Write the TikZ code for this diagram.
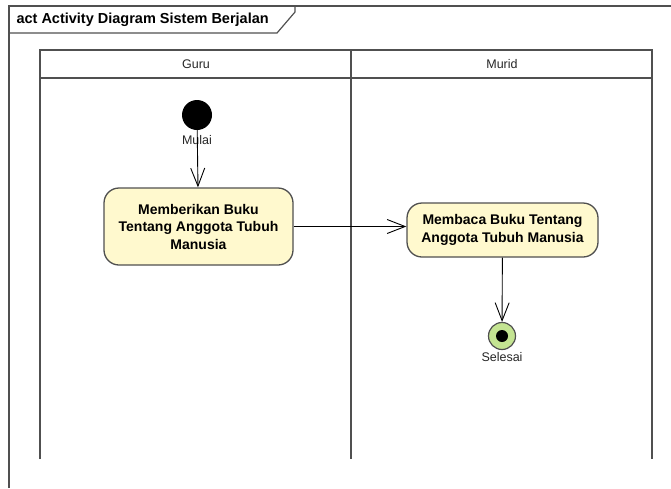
\documentclass[tikz,border=0pt]{standalone}
\usepackage{fontspec}
\setmainfont{Liberation Sans}
\usetikzlibrary{arrows.meta,positioning,shapes}
\definecolor{actfill}{RGB}{255,249,206}
\definecolor{endfill}{RGB}{196,228,146}
\definecolor{linegray}{RGB}{80,80,80}
\tikzset{
  action/.style={draw=linegray, line width=1.3pt, rounded corners=15pt, fill=actfill, align=center, inner sep=0pt, font=\fontsize{14}{17.5}\selectfont\bfseries},
  flow/.style={draw, line width=0.9pt, -{Straight Barb[length=18pt,width=14pt,line width=0.9pt]}},
  lane/.style={draw=linegray, line width=1.2pt},
  lbl/.style={font=\fontsize{12.5}{14}\selectfont, text=black!85},
}

\begin{document}
\begin{tikzpicture}[x=1pt, y=-1pt]
        \useasboundingbox (0,0) rectangle (671,488);
        %frame
        \draw[lane] (9,488) -- (9,6) -- (671,6);
        \draw[lane] (9,33) -- (277,33) -- (295,12) -- (295,6);
        \node[anchor=west, font=\fontsize{14.5}{16}\selectfont\bfseries] (judul) at (13,20) {act Activity Diagram Sistem Berjalan};
        %lanes
        \draw[lane] (40,459) -- (40,50) -- (652,50) -- (652,459);
        \draw[lane] (40,78) -- (652,78);
        \draw[lane] (351,50) -- (351,459);
        \node[lbl] (guru) at (196,64) {Guru};
        \node[lbl] (murid) at (502,64) {Murid};
        %nodes
        \node[circle, fill=black, minimum size=30pt, inner sep=0pt] (mulai) at (197,115) {};
        \node[lbl] (mulaiteks) at (197,140) {Mulai};
        \node[action, minimum width=189pt, minimum height=77pt] (beri) at (198.5,226.5) {Memberikan Buku\\Tentang Anggota Tubuh\\Manusia};
        \node[action, minimum width=191pt, minimum height=54pt] (baca) at (502.5,230) {Membaca Buku Tentang\\Anggota Tubuh Manusia};
        \node[circle, draw=linegray, line width=1.2pt, fill=endfill, minimum size=27pt, inner sep=0pt] (selesai) at (502,336) {};
        \node[circle, fill=black, minimum size=12pt, inner sep=0pt] (selesaititik) at (502,336) {};
        \node[lbl] (selesaiteks) at (502,357) {Selesai};
        %edges
        \path[flow] (mulai) -- (beri);
        \path[flow] (beri.east) -- (beri.east -| baca.west);
        \path[flow] (baca) -- (selesai);
      \end{tikzpicture}
\end{document}
